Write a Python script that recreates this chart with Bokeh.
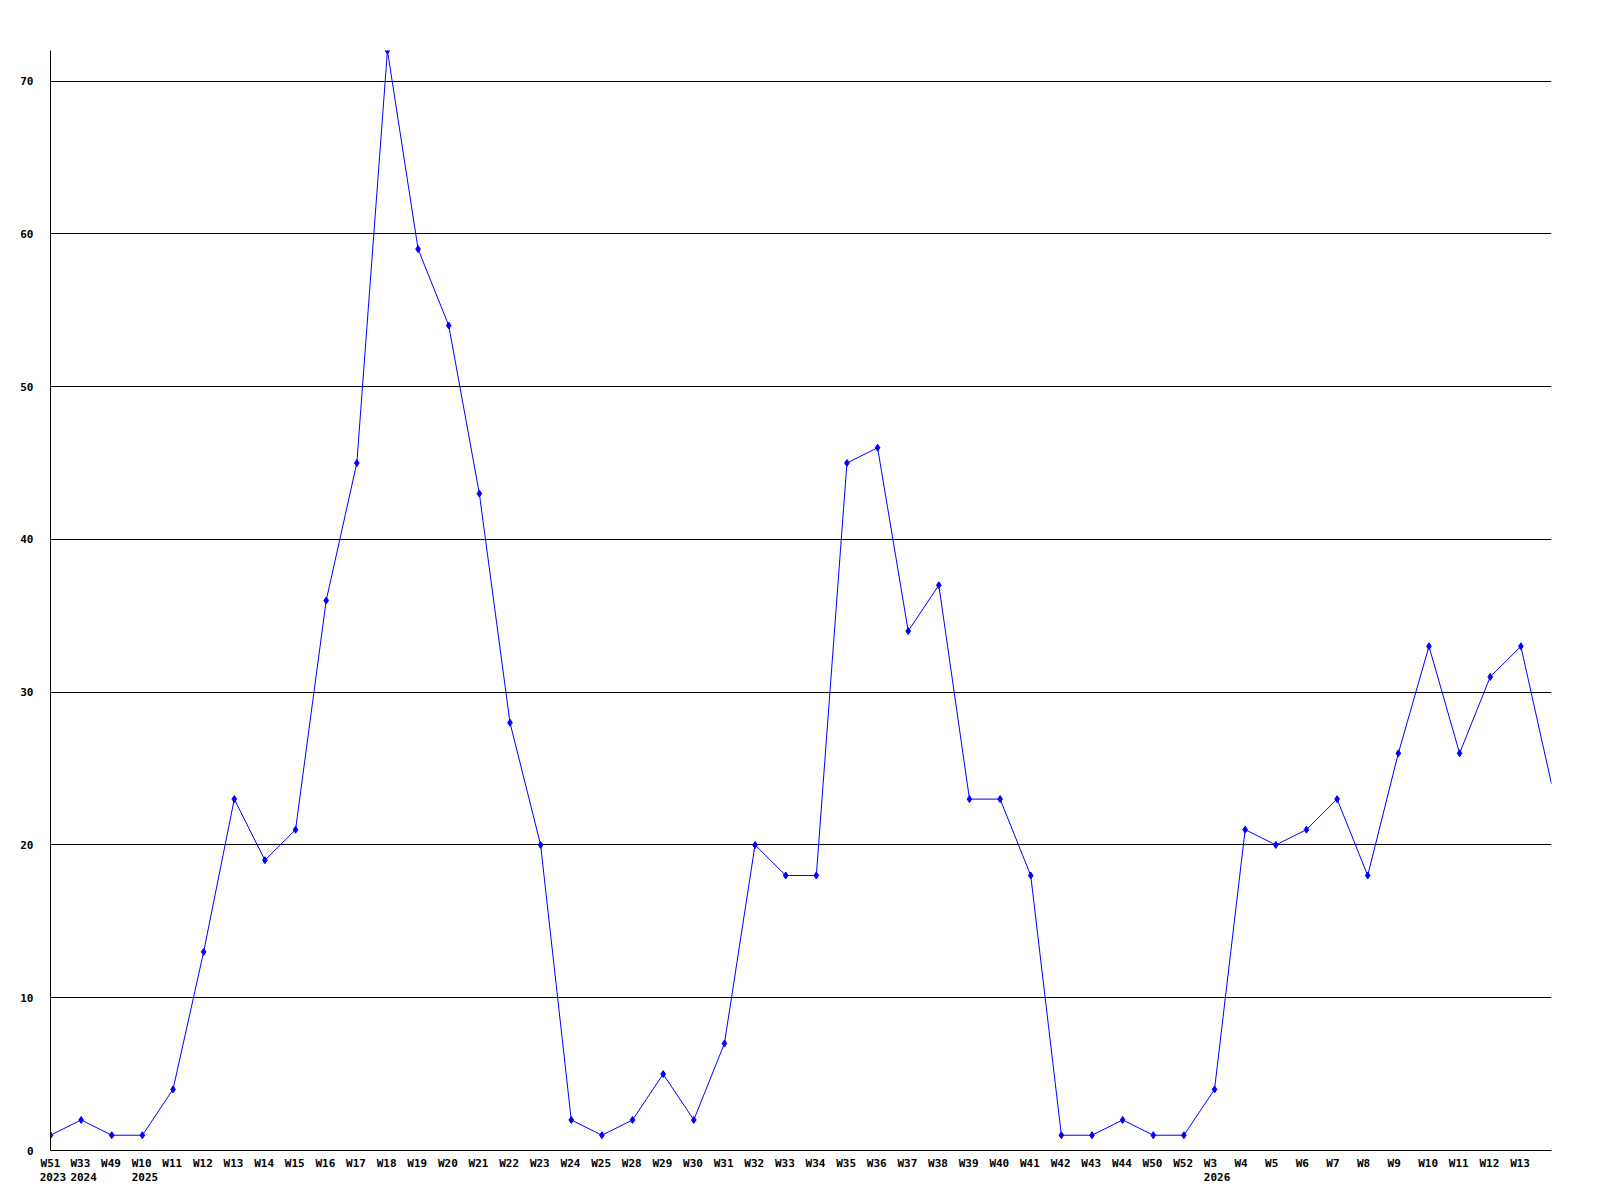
from bokeh.plotting import figure
from bokeh.models import FixedTicker, Range1d, CustomJSTickFormatter, LinearAxis
from bokeh.embed import file_html
from bokeh.resources import INLINE

weeks = ["W51", "W33", "W49", "W10", "W11", "W12", "W13", "W14", "W15", "W16",
         "W17", "W18", "W19", "W20", "W21", "W22", "W23", "W24", "W25", "W28",
         "W29", "W30", "W31", "W32", "W33", "W34", "W35", "W36", "W37", "W38",
         "W39", "W40", "W41", "W42", "W43", "W44", "W50", "W52", "W3", "W4",
         "W5", "W6", "W7", "W8", "W9", "W10", "W11", "W12", "W13", ""]
year_idx = [0, 1, 3, 38]
year_labels = ["2023", "2024", "2025", "2026"]
values = [1, 2, 1, 1, 4, 13, 23, 19, 21, 36,
          45, 72, 59, 54, 43, 28, 20, 2, 1, 2,
          5, 2, 7, 20, 18, 18, 45, 46, 34, 37,
          23, 23, 18, 1, 1, 2, 1, 1, 4, 21,
          20, 21, 23, 18, 26, 33, 26, 31, 33, 24]
y_ticks = [0, 10, 20, 30, 40, 50, 60, 70]

xs = list(range(len(values)))

p = figure(frame_width=1501, frame_height=1100,
           min_border_left=50, min_border_right=9,
           min_border_top=50, min_border_bottom=10,
           output_backend="svg", toolbar_location=None,
           x_range=Range1d(0, len(values) - 1), y_range=Range1d(0, 72))
p.outline_line_color = None
p.background_fill_color = "white"
p.border_fill_color = "white"

p.xgrid.visible = False
p.ygrid.grid_line_color = "black"
p.ygrid.grid_line_width = 1
p.ygrid.ticker = FixedTicker(ticks=y_ticks)

font = "DejaVu Sans Mono"
fsize = 11
char_w = 0.6 * fsize

p.yaxis.ticker = FixedTicker(ticks=y_ticks)
p.yaxis.major_tick_line_color = None
p.yaxis.minor_tick_line_color = None
p.yaxis.major_tick_out = 0
p.yaxis.major_tick_in = 0
p.yaxis.major_label_standoff = 17
p.yaxis.axis_line_color = "black"
p.yaxis.major_label_text_font = font
p.yaxis.major_label_text_font_style = "bold"
p.yaxis.major_label_text_font_size = f"{fsize}px"
p.yaxis.major_label_text_color = "black"

# labels start ~10.7px left of their point (left aligned text)
px_per_unit = 1501 / (len(values) - 1)
lead = 10.7


def centre(i, text):
    off = (-lead + len(text) * char_w / 2) / px_per_unit
    return max(0.0, i + off)


week_ticks = [centre(i, w) for i, w in enumerate(weeks[:-1])]
p.xaxis.ticker = FixedTicker(ticks=week_ticks)
p.xaxis.formatter = CustomJSTickFormatter(
    args=dict(labels=weeks),
    code="return labels[Math.round(tick)];")
p.xaxis.major_tick_line_color = None
p.xaxis.minor_tick_line_color = None
p.xaxis.major_tick_out = 0
p.xaxis.major_tick_in = 0
p.xaxis.major_label_standoff = 6
p.xaxis.axis_line_color = "black"
p.xaxis.major_label_text_font = font
p.xaxis.major_label_text_font_style = "bold"
p.xaxis.major_label_text_font_size = f"{fsize}px"
p.xaxis.major_label_text_color = "black"

year_ticks = [i + (-lead + len(y) * char_w / 2) / px_per_unit
              for i, y in zip(year_idx, year_labels)]
year_axis = LinearAxis(
    ticker=FixedTicker(ticks=year_ticks),
    formatter=CustomJSTickFormatter(
        args=dict(idx=year_idx, labels=year_labels),
        code="""let best = 0;
for (let k = 0; k < idx.length; k++) {
  if (Math.abs(idx[k] - tick) < Math.abs(idx[best] - tick)) best = k;
}
return labels[best];"""),
    axis_line_color=None, major_tick_line_color=None, minor_tick_line_color=None,
    major_tick_out=0, major_tick_in=0, major_label_standoff=0,
    major_label_text_font=font, major_label_text_font_style="bold",
    major_label_text_font_size=f"{fsize}px", major_label_text_color="black")
p.add_layout(year_axis, "below")

p.line(xs, values, line_color="#0000FF", line_width=1)
p.scatter(xs[:-1], values[:-1], marker="diamond", size=7, color="#0000FF")

open("out.html", "w").write(file_html(p, INLINE))
